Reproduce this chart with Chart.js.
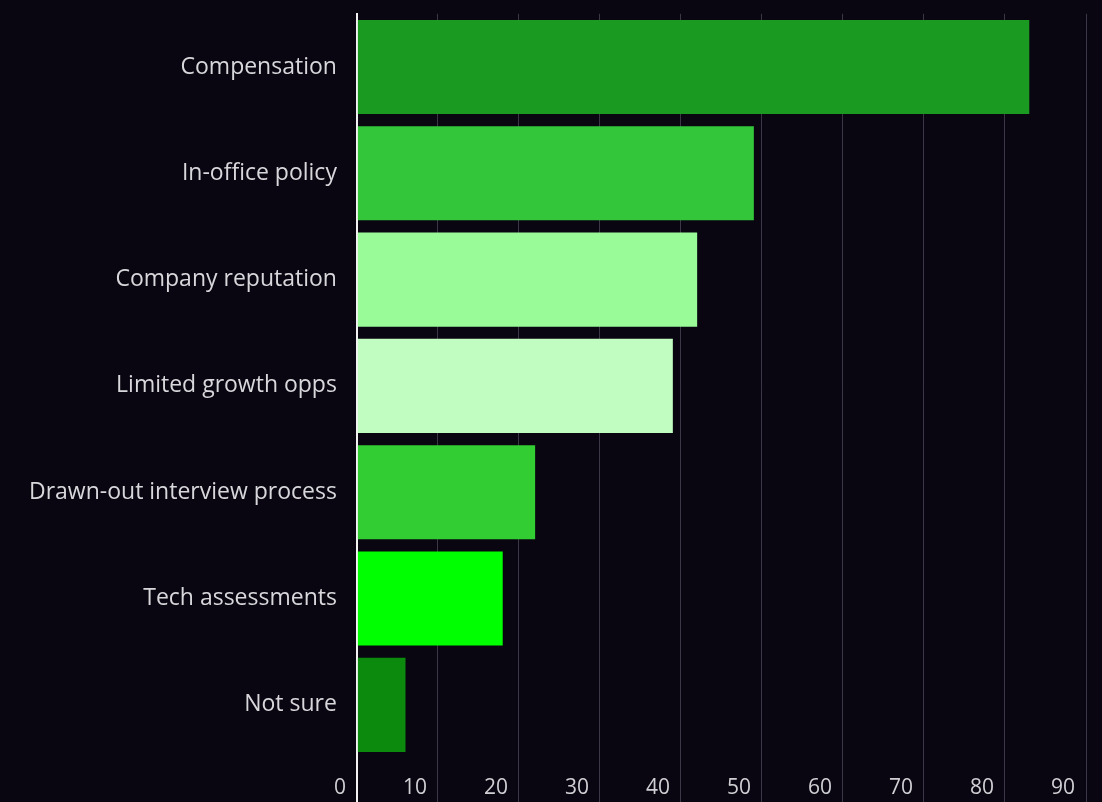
<!DOCTYPE html>
<html>
<head>
<meta charset="utf-8">
<script src="https://cdn.jsdelivr.net/npm/chart.js@4"></script>
<style>
  html, body { margin: 0; padding: 0; background: #0a0611; }
  .wrap { width: 1102px; height: 802px; }
</style>
</head>
<body>
<div class="wrap"><canvas id="reasons"></canvas></div>
<script>
// reasons candidates turned down offers
const reasons = [
  "Compensation",
  "In-office policy",
  "Company reputation",
  "Limited growth opps",
  "Drawn-out interview process",
  "Tech assessments",
  "Not sure",
]
const counts = [83, 49, 42, 39, 22, 18, 6]
const barColors = ["#1a9a20", "#33c63a", "#98fb98", "#c1fdc1", "#32cd32", "#00ff00", "#0b8a0d"]
const xMin = 0
const xMax = 90
const xStep = 10

const gridGray = "rgba(120, 115, 135, 0.45)"
// zero line is drawn white, like an axis
const gridColor = (c) => (c.tick && c.tick.value === 0 ? "#f2f2f2" : gridGray)
const gridWidth = (c) => (c.tick && c.tick.value === 0 ? 2 : 1)

const ctx = document.querySelector("#reasons").getContext("2d")
const reasonsChart = new Chart(ctx, {
  type: "bar",
  data: {
    labels: reasons,
    datasets: [
      {
        data: counts,
        backgroundColor: barColors,
        borderWidth: 0,
        categoryPercentage: 0.885,
        barPercentage: 1,
      },
    ],
  },
  options: {
    indexAxis: "y",
    responsive: true,
    maintainAspectRatio: false,
    animation: false,
    layout: { padding: { top: 0, right: 16, left: 29, bottom: 0 } },
    plugins: {
      legend: { display: false },
      tooltip: { enabled: false },
    },
    scales: {
      x: {
        min: xMin,
        max: xMax,
        ticks: {
          stepSize: xStep,
          color: "#cfcfd4",
          font: { family: "'Open Sans', sans-serif", size: 21 },
          align: "end",
          labelOffset: -11,
          // mirrored labels sit inside the long tick marks
          mirror: true,
          padding: -43,
          maxRotation: 0,
          autoSkip: false,
        },
        grid: {
          color: gridColor,
          lineWidth: gridWidth,
          tickColor: gridColor,
          tickWidth: gridWidth,
          tickLength: 130,
        },
        border: { display: false },
      },
      y: {
        // invisible grid, its tick length keeps labels off the axis
        grid: { color: "rgba(0,0,0,0)", tickColor: "rgba(0,0,0,0)", tickLength: 20 },
        border: { display: true, color: "#f2f2f2", width: 2 },
        ticks: {
          color: "#d8d8dc",
          font: { family: "'Open Sans', sans-serif", size: 23 },
          padding: 0,
        },
      },
    },
  },
})
</script>
</body>
</html>
